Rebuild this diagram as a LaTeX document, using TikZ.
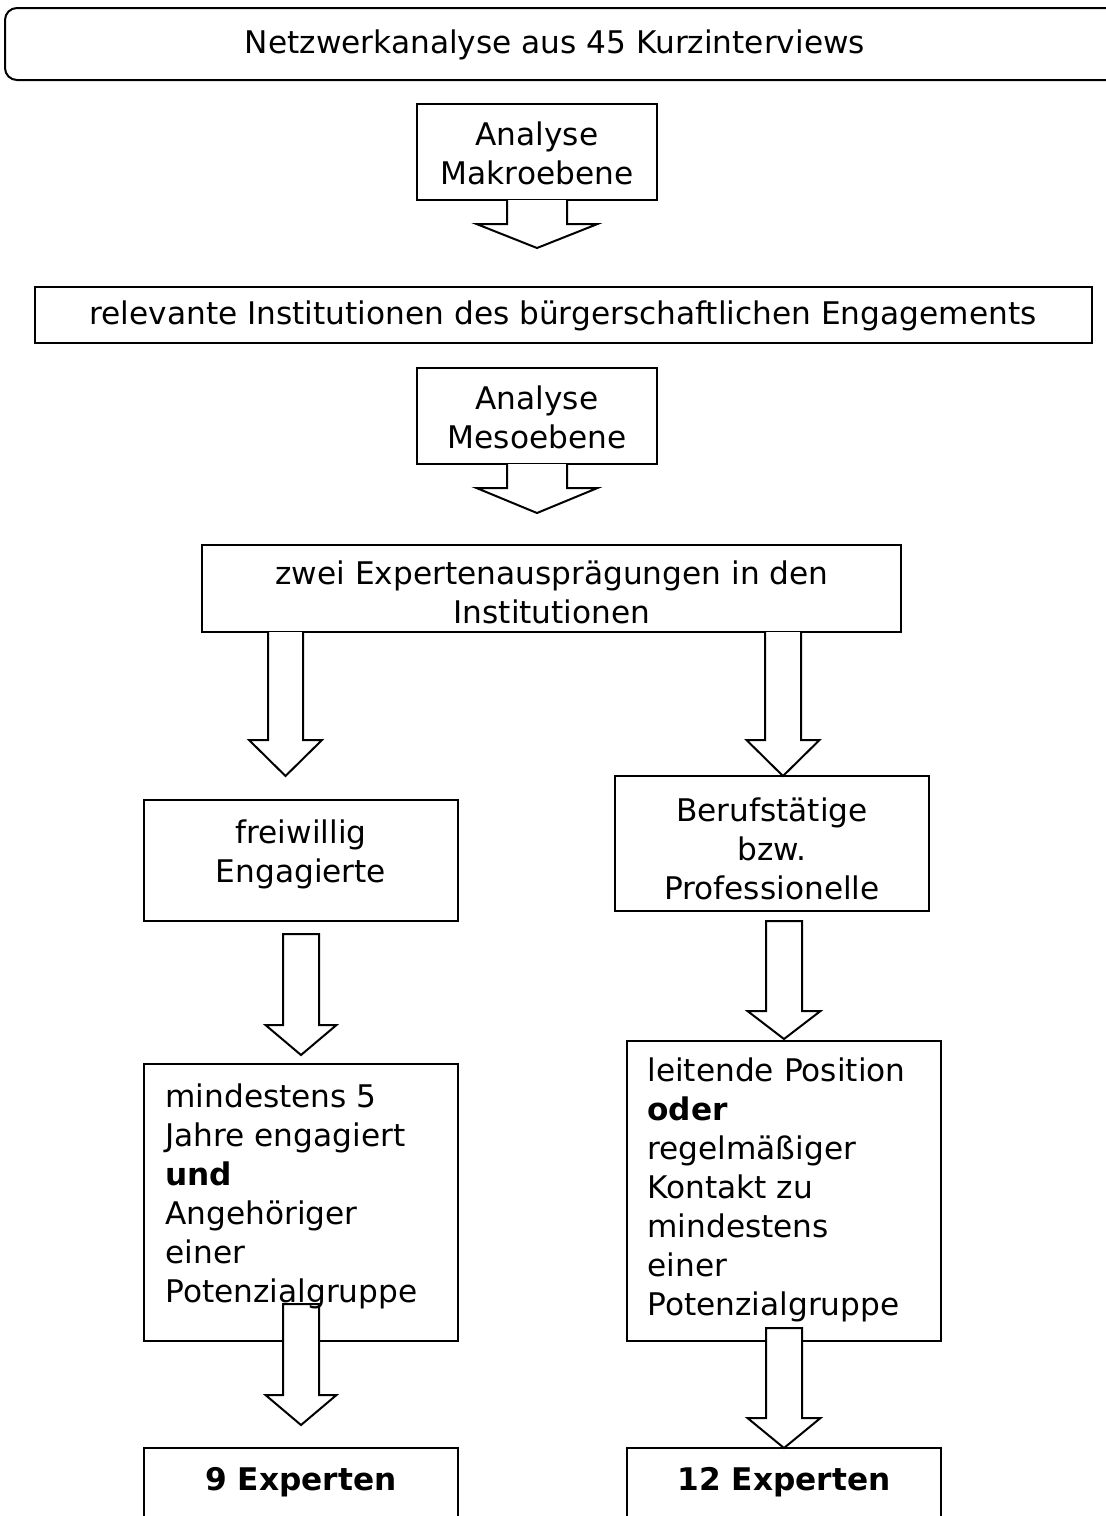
\documentclass[tikz,border=0pt]{standalone}
\usepackage{fontspec}
\setmainfont{DejaVu Sans}
\tikzset{
  box/.style={draw, line width=1pt, inner sep=0pt, outer sep=0pt, anchor=north west},
  txt/.style={font=\fontsize{15.6}{19.5}\selectfont, align=center, inner sep=0pt},
  ltxt/.style={font=\fontsize{15.6}{19.5}\selectfont, align=left, inner sep=0pt, anchor=west},
  barrow/.style={draw, fill=white, line width=1pt, line join=miter},
}
% box: [options] x1 y1 x2 y2 name
\newcommand\mybox[6][]{\node[box,#1,minimum width={(#4-#2)*0.5pt},minimum height={(#5-#3)*0.5pt}] (#6) at (#2,#3) {};}
% block arrow: cx, shaft half width, head half width, top, head top, tip
\newcommand\openarrow[6]{\draw[barrow] ({#1-#2},#4) -- ({#1-#2},#5) -- ({#1-#3},#5) -- (#1,#6) -- ({#1+#3},#5) -- ({#1+#2},#5) -- ({#1+#2},#4);}
\newcommand\closedarrow[6]{\draw[barrow] ({#1-#2},#4) -- ({#1-#2},#5) -- ({#1-#3},#5) -- (#1,#6) -- ({#1+#3},#5) -- ({#1+#2},#5) -- ({#1+#2},#4) -- cycle;}
\begin{document}
\begin{tikzpicture}[x=0.5pt,y=-0.5pt]
\useasboundingbox (0,0) rectangle (1105,1516);
% boxes
\mybox[rounded corners=6pt]{5}{8}{1125}{80}{top}
\node[txt] (topt) at (555,45) {Netzwerkanalyse aus 45 Kurzinterviews};
\mybox{417}{104}{657}{200}{makro}
\node[txt] (makrot) at (537,153) {Analyse\\Makroebene};
\mybox{35}{287}{1092}{343}{rel}
\node[txt] (relt) at (563,316) {relevante Institutionen des bürgerschaftlichen Engagements};
\mybox{417}{368}{657}{464}{meso}
\node[txt] (mesot) at (537,417) {Analyse\\Mesoebene};
\mybox{202}{545}{901}{632}{zwei}
\node[txt] (zweit) at (552,592) {zwei Expertenausprägungen in den\\Institutionen};
\mybox{144}{800}{458}{921}{frei}
\node[txt] (freit) at (301,854) {freiwillig\\Engagierte};
\mybox{615}{776}{929}{911}{beruf}
\node[txt] (beruft) at (772,849) {Berufstätige\\bzw.\\Professionelle};
\mybox{144}{1064}{458}{1341}{mind}
\mybox{627}{1041}{941}{1341}{leit}
\node[ltxt] (leitt) at (647,1190) {leitende Position\\\textbf{oder}\\regelmäßiger\\Kontakt zu\\mindestens\\einer\\Potenzialgruppe};
\mybox{144}{1448}{458}{1540}{nine}
\node[txt] (ninet) at (301,1482) {\textbf{9 Experten}};
\mybox{627}{1448}{941}{1540}{twelve}
\node[txt] (twelvet) at (784,1482) {\textbf{12 Experten}};
% arrows
\openarrow{537}{30}{60.5}{200}{224}{248}
\openarrow{537}{30}{60.5}{464}{488}{513}
\openarrow{285.5}{17.5}{36.5}{632}{740}{776}
\openarrow{783}{18}{36.5}{632}{740}{776}
\closedarrow{301}{18}{35.5}{934}{1025}{1055}
\closedarrow{784}{18}{36.5}{921}{1011}{1039}
\closedarrow{301}{18}{35.5}{1304}{1395}{1425}
\closedarrow{784}{18}{36.5}{1328}{1418}{1448}
% text drawn over the arrow
\node[ltxt] (mindt) at (165,1196) {mindestens 5\\Jahre engagiert\\\textbf{und}\\Angehöriger\\einer\\Potenzialgruppe};
\end{tikzpicture}
\end{document}
